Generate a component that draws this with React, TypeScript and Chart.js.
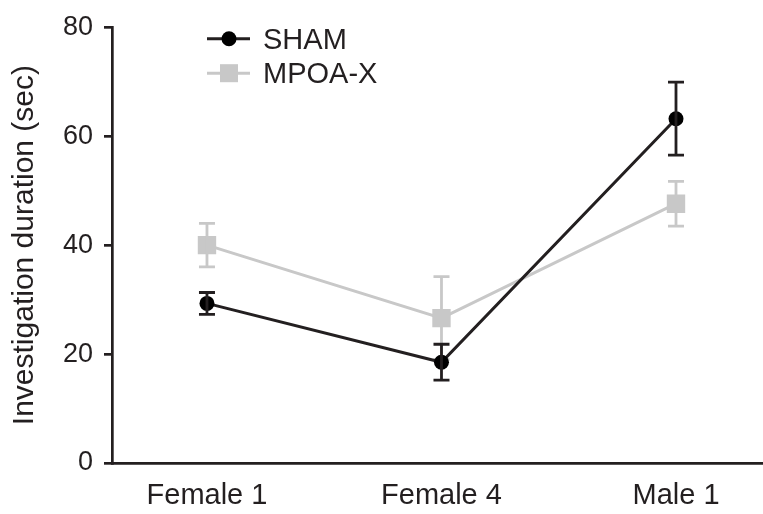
import React, { useEffect, useRef } from "react";
import { Chart, registerables } from "chart.js";

Chart.register(...registerables);

const categories = ["Female 1", "Female 4", "Male 1"];
const shamMean = [29.3, 18.5, 63.2];
const shamErr = [2.0, 3.3, 6.7];
const mpoaMean = [40.0, 26.6, 47.6];
const mpoaErr = [4.0, 7.6, 4.1];
const yTicks = [0, 20, 40, 60, 80];

const INK = "#231f20";
const GRAY = "#c8c8c8";
const FONT = "'Liberation Sans', Arial, Helvetica, sans-serif";

const errors = [shamErr, mpoaErr];

const errorBarPlugin = {
  id: "errorBars",
  afterDatasetDraw(chart: any, args: any) {
    const i = args.index;
    const ds = chart.data.datasets[i];
    const err = errors[i];
    const meta = chart.getDatasetMeta(i);
    const ys = chart.scales.y;
    const ctx = chart.ctx;
    ctx.save();
    ctx.strokeStyle = ds.borderColor;
    ctx.lineWidth = 2.8;
    ctx.lineCap = "butt";
    meta.data.forEach((pt: any, j: number) => {
      const v = ds.data[j].y;
      const hi = ys.getPixelForValue(v + err[j]);
      const lo = ys.getPixelForValue(v - err[j]);
      const x = pt.x;
      ctx.beginPath();
      ctx.moveTo(x, hi);
      ctx.lineTo(x, lo);
      ctx.moveTo(x - 8, hi);
      ctx.lineTo(x + 8, hi);
      ctx.moveTo(x - 8, lo);
      ctx.lineTo(x + 8, lo);
      ctx.stroke();
    });
    ctx.restore();
  },
};

const legendPlugin = {
  id: "customLegend",
  afterDraw(chart: any) {
    const ctx = chart.ctx;
    const { left, top } = chart.chartArea;
    ctx.save();
    chart.data.datasets.forEach((ds: any, i: number) => {
      const y = top + 11.5 + i * 34.5;
      const x0 = left + 95;
      ctx.strokeStyle = ds.borderColor;
      ctx.lineWidth = 3;
      ctx.beginPath();
      ctx.moveTo(x0, y);
      ctx.lineTo(x0 + 43, y);
      ctx.stroke();
      ctx.fillStyle = ds.pointBackgroundColor;
      const cx = x0 + 22;
      if (ds.pointStyle === "rect") {
        ctx.fillRect(cx - 9, y - 9, 18, 18);
      } else {
        ctx.beginPath();
        ctx.arc(cx, y, 7.5, 0, Math.PI * 2);
        ctx.fill();
      }
      ctx.fillStyle = INK;
      ctx.font = `29px ${FONT}`;
      ctx.textBaseline = "middle";
      ctx.textAlign = "left";
      ctx.fillText(ds.label, x0 + 56, y + 2);
    });
    ctx.restore();
  },
};

export default function App() {
  const ref = useRef<HTMLCanvasElement>(null);
  useEffect(() => {
    const chart = new Chart(ref.current as HTMLCanvasElement, {
      type: "line",
      data: {
        datasets: [
          {
            label: "SHAM",
            data: shamMean.map((v, i) => ({ x: i, y: v })),
            borderColor: INK,
            backgroundColor: "#000000",
            pointBackgroundColor: "#000000",
            pointBorderColor: "#000000",
            pointBorderWidth: 0,
            pointStyle: "circle",
            pointRadius: 7.5,
            borderWidth: 3,
          },
          {
            label: "MPOA-X",
            data: mpoaMean.map((v, i) => ({ x: i, y: v })),
            borderColor: GRAY,
            backgroundColor: GRAY,
            pointBackgroundColor: GRAY,
            pointBorderColor: GRAY,
            pointBorderWidth: 0,
            pointStyle: "rect",
            pointRadius: 13,
            borderWidth: 3,
          },
        ],
      },
      options: {
        animation: false,
        responsive: false,
        layout: { autoPadding: false, padding: { top: 23.5, right: 0, bottom: 0, left: 0 } },
        plugins: { legend: { display: false }, tooltip: { enabled: false } },
        scales: {
          x: {
            type: "linear",
            min: -0.405,
            max: 2.371,
            afterBuildTicks: (s: any) => {
              s.ticks = categories.map((_, i) => ({ value: i }));
            },
            afterFit: (s: any) => {
              s.height = 51;
            },
            ticks: {
              callback: (v: any) => categories[v] ?? "",
              font: { size: 29, family: FONT },
              color: INK,
              padding: 16,
              autoSkip: false,
              maxRotation: 0,
            },
            grid: { display: false, drawTicks: false },
            border: { display: true, color: INK, width: 2.7 },
          },
          y: {
            min: 0,
            max: 80,
            afterBuildTicks: (s: any) => {
              s.ticks = yTicks.map((v) => ({ value: v }));
            },
            afterFit: (s: any) => {
              s.width = 112;
            },
            ticks: {
              font: { size: 27, family: FONT },
              color: INK,
              padding: 11,
            },
            grid: {
              drawOnChartArea: false,
              drawTicks: true,
              tickLength: 8,
              color: INK,
              lineWidth: 2.7,
            },
            border: { display: true, color: INK, width: 2.7 },
            title: {
              display: true,
              text: "Investigation duration (sec)",
              font: { size: 30, family: FONT },
              color: INK,
              padding: { top: 7, bottom: 0 },
            },
          },
        },
      },
      plugins: [errorBarPlugin, legendPlugin],
    } as any);
    return () => chart.destroy();
  }, []);
  return (
    <div style={{ position: "fixed", left: 0, top: 0, width: 763, height: 514, background: "#fff" }}>
      <canvas ref={ref} width={763} height={514} style={{ display: "block" }} />
    </div>
  );
}
